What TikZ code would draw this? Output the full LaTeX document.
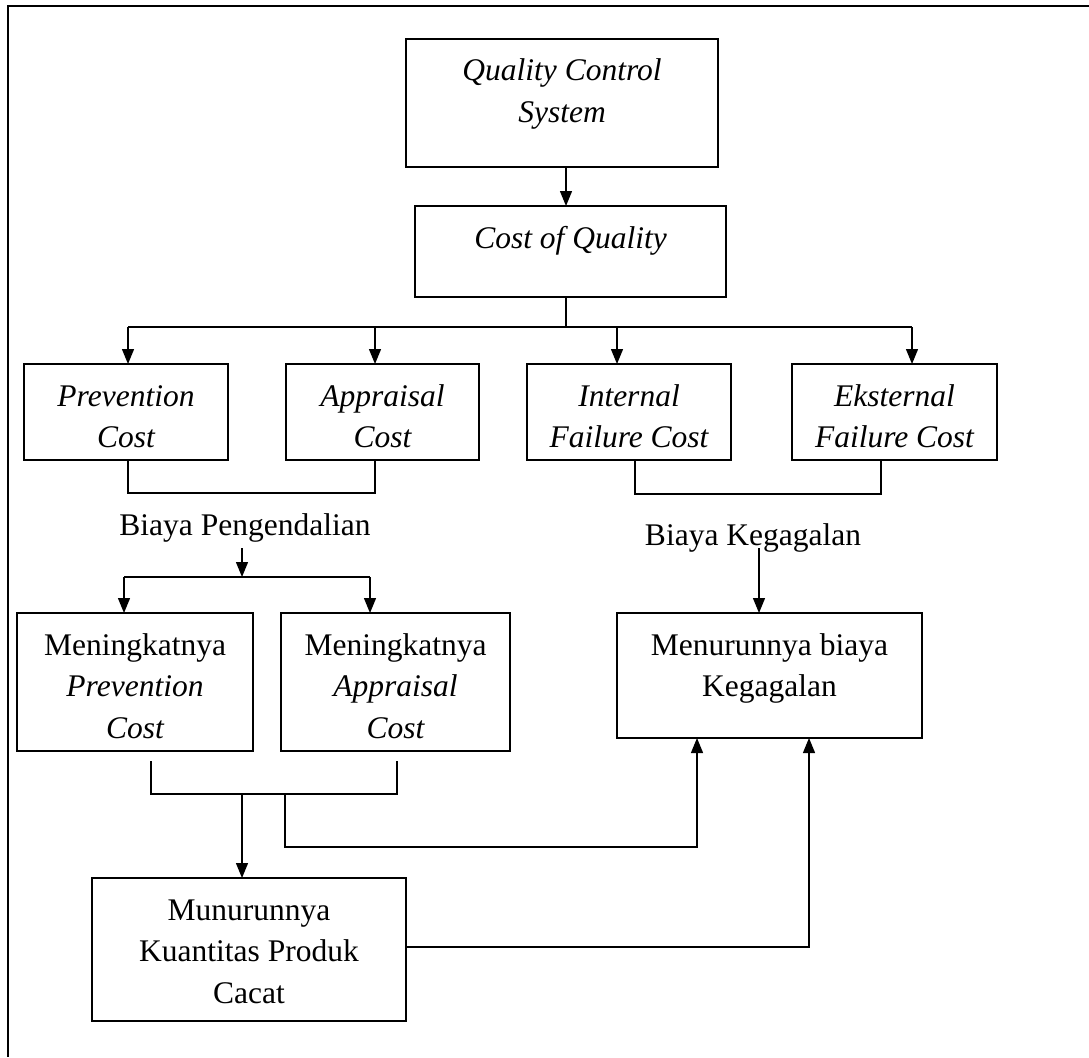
\documentclass[tikz,border=0pt]{standalone}
\usepackage{fontspec}
\setmainfont{Liberation Serif}
\usetikzlibrary{arrows.meta}
\begin{document}
\begin{tikzpicture}[x=1pt,y=-1pt,
  box/.style={draw,line width=1.5pt,inner sep=0pt,outer sep=0pt},
  txt/.style={anchor=base,inner sep=0pt,font=\fontsize{31.5}{41.5}\selectfont},
  itx/.style={anchor=base,inner sep=0pt,font=\fontsize{31.5}{41.5}\selectfont\itshape},
  ln/.style={line width=1.3pt},
  arr/.style={line width=1.3pt,-{Triangle[length=15pt,width=12pt]}},
  framel/.style={line width=2pt}
]
\useasboundingbox (0,0) rectangle (1089,1057);
% outer frame
\draw[framel] (1089,6) -- (8,6) -- (8,1057);

% boxes
\node[box,minimum width=312pt,minimum height=128pt] (qcs) at (562,103) {};
\node[box,minimum width=311pt,minimum height=91pt] (coq) at (570.5,251.5) {};
\node[box,minimum width=204pt,minimum height=96pt] (prev) at (126,412) {};
\node[box,minimum width=193pt,minimum height=96pt] (appr) at (382.5,412) {};
\node[box,minimum width=204pt,minimum height=96pt] (intf) at (629,412) {};
\node[box,minimum width=205pt,minimum height=96pt] (extf) at (894.5,412) {};
\node[box,minimum width=236pt,minimum height=138pt] (mprev) at (135,682) {};
\node[box,minimum width=229pt,minimum height=138pt] (mappr) at (395.5,682) {};
\node[box,minimum width=305pt,minimum height=125pt] (mbiaya) at (769.5,675.5) {};
\node[box,minimum width=314pt,minimum height=143pt] (mkuan) at (249,949.5) {};

% texts
\node[itx] (qcsA) at (562,81) {Quality Control};
\node[itx] (qcsB) at (562,122.5) {System};
\node[itx] (coqA) at (570.5,248) {Cost of Quality};
\node[itx] (prevA) at (126,406) {Prevention};
\node[itx] (prevB) at (126,447.5) {Cost};
\node[itx] (apprA) at (382.5,406) {Appraisal};
\node[itx] (apprB) at (382.5,447.5) {Cost};
\node[itx] (intfA) at (629,406) {Internal};
\node[itx] (intfB) at (629,447.5) {Failure Cost};
\node[itx] (extfA) at (894.5,406) {Eksternal};
\node[itx] (extfB) at (894.5,447.5) {Failure Cost};
\node[txt] (bp) at (245,535) {Biaya Pengendalian};
\node[txt] (bk) at (753,545) {Biaya Kegagalan};
\node[txt] (mprevA) at (135,655) {Meningkatnya};
\node[itx] (mprevB) at (135,696.5) {Prevention};
\node[itx] (mprevC) at (135,738) {Cost};
\node[txt] (mapprA) at (395.5,655) {Meningkatnya};
\node[itx] (mapprB) at (395.5,696.5) {Appraisal};
\node[itx] (mapprC) at (395.5,738) {Cost};
\node[txt] (mbiayaA) at (769.5,655) {Menurunnya biaya};
\node[txt] (mbiayaB) at (769.5,696.5) {Kegagalan};
\node[txt] (mkuanA) at (249,920) {Munurunnya};
\node[txt] (mkuanB) at (249,961.5) {Kuantitas Produk};
\node[txt] (mkuanC) at (249,1003) {Cacat};

% helper coordinates
\coordinate (bar) at (566,327);
\coordinate (b1) at (128,327);
\coordinate (b2) at (375,327);
\coordinate (b3) at (617,327);
\coordinate (b4) at (912,327);
\coordinate (lbL) at (128,493);
\coordinate (lbR) at (375,493);
\coordinate (rbL) at (635,494);
\coordinate (rbR) at (881,494);
\coordinate (bpA) at (242,548);
\coordinate (bpB) at (242,577);
\coordinate (s1) at (124,577);
\coordinate (s2) at (370,577);
\coordinate (bkA) at (759,548);
\coordinate (cbL) at (151,761);
\coordinate (cbLb) at (151,794);
\coordinate (cbR) at (397,761);
\coordinate (cbRb) at (397,794);
\coordinate (dA) at (242,794);
\coordinate (eA) at (285,794);
\coordinate (eB) at (285,847);
\coordinate (eC) at (697,847);
\coordinate (fB) at (809,947);

% connectors
\draw[arr] ([xshift=4pt]qcs.south) -- ([xshift=4pt]qcs.south |- coq.north);
\draw[ln] (bar |- coq.south) -- (bar);
\draw[ln] (b1) -- (b4);
\draw[arr] (b1) -- (b1 |- prev.north);
\draw[arr] (b2) -- (b2 |- appr.north);
\draw[arr] (b3) -- (b3 |- intf.north);
\draw[arr] (b4) -- (b4 |- extf.north);

\draw[ln] (lbL |- prev.south) -- (lbL) -- (lbR) -- (lbR |- appr.south);
\draw[ln] (rbL |- intf.south) -- (rbL) -- (rbR) -- (rbR |- extf.south);

\draw[arr] (bpA) -- (bpB);
\draw[ln] (s1) -- (s2);
\draw[arr] (s1) -- (s1 |- mprev.north);
\draw[arr] (s2) -- (s2 |- mappr.north);

\draw[arr] (bkA) -- (bkA |- mbiaya.north);

\draw[ln] (cbL) -- (cbLb) -- (cbRb) -- (cbR);
\draw[arr] (dA) -- (dA |- mkuan.north);
\draw[arr] (eA) -- (eB) -- (eC) -- (eC |- mbiaya.south);
\draw[arr] (mkuan.east |- fB) -- (fB) -- (fB |- mbiaya.south);
\end{tikzpicture}
\end{document}
